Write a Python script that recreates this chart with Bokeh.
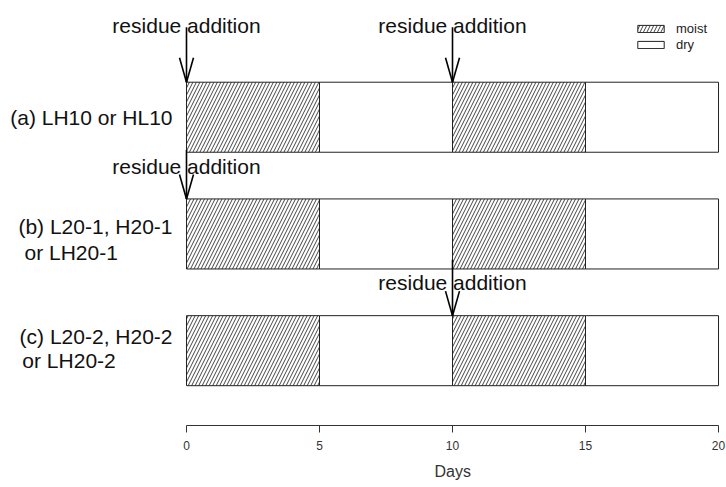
from bokeh.plotting import figure
from bokeh.models import (Range1d, FixedTicker, Label, Legend, LegendItem, Title)
from bokeh.embed import file_html
from bokeh.resources import INLINE

# ---------------- data ----------------
row_labels_line1 = ["(a) LH10 or HL10", "(b) L20-1, H20-1", "(c) L20-2, H20-2"]
row_labels_line2 = ["", " or LH20-1", " or LH20-2"]
moist_start = [0, 10]
moist_end = [5, 15]
dry_start = [5, 15]
dry_end = [10, 20]
residue_days = [[0, 10], [0], [10]]
residue_text = "residue addition"
x_ticks = [0, 5, 10, 15, 20]
x_label = "Days"
legend_labels = ["moist", "dry"]

# ---------------- layout constants ----------------
FONT = "Liberation Sans"
row_y = [3, 2, 1]            # row centres (layout)
bar_h = 0.6
text_off = [0.79, 0.58, 0.58]   # "residue addition" text offset above row centre
arrow_top = [0.77, 0.72, 0.78]  # arrow start offset above row centre
line1_off = [0.0, 0.06, 0.12]
line2_off = [0.0, -0.16, -0.08]
line2_x = [0, -6.09, -6.17]
head_dx = 0.263
head_dy = 0.21

p = figure(width=726, height=487, output_backend="svg", toolbar_location=None,
           x_range=Range1d(-6.992, 20.30), y_range=Range1d(0.359, 4.0),
           y_axis_location=None,
           min_border_left=0, min_border_right=0, min_border_top=0,
           min_border_bottom=61)
p.outline_line_color = None
p.xgrid.visible = False
p.ygrid.visible = False
p.background_fill_color = "white"
p.border_fill_color = "white"

# bars
m_left, m_right, m_bottom, m_top = [], [], [], []
d_left, d_right, d_bottom, d_top = [], [], [], []
for y in row_y:
    for s, e in zip(moist_start, moist_end):
        m_left.append(s); m_right.append(e)
        m_bottom.append(y - bar_h / 2); m_top.append(y + bar_h / 2)
    for s, e in zip(dry_start, dry_end):
        d_left.append(s); d_right.append(e)
        d_bottom.append(y - bar_h / 2); d_top.append(y + bar_h / 2)

r_moist = p.quad(left=m_left, right=m_right, bottom=m_bottom, top=m_top,
                 fill_color="white", line_color="#222", line_width=1,
                 hatch_pattern="/", hatch_color="#444", hatch_weight=1,
                 hatch_scale=7)
r_dry = p.quad(left=d_left, right=d_right, bottom=d_bottom, top=d_top,
               fill_color="white", line_color="#222", line_width=1)

# arrows + text
for i, days in enumerate(residue_days):
    y = row_y[i]
    tip = y + bar_h / 2
    for d in days:
        p.segment(x0=[d], y0=[y + arrow_top[i]], x1=[d], y1=[tip],
                  line_color="black", line_width=1.6)
        p.segment(x0=[d - head_dx, d + head_dx], y0=[tip + head_dy, tip + head_dy],
                  x1=[d, d], y1=[tip, tip], line_color="black", line_width=1.6)
        p.add_layout(Label(x=d, y=y + text_off[i], text=residue_text,
                           text_align="center", text_baseline="middle",
                           text_font=FONT, text_font_size="21px",
                           text_color="#111"))

# row labels
for i in range(3):
    y = row_y[i]
    p.add_layout(Label(x=-0.526, y=y + line1_off[i], text=row_labels_line1[i],
                       text_align="right", text_baseline="middle",
                       text_font=FONT, text_font_size="21px", text_color="#111"))
    if row_labels_line2[i]:
        p.add_layout(Label(x=line2_x[i], y=y + line2_off[i], text=row_labels_line2[i],
                           text_align="left", text_baseline="middle",
                           text_font=FONT, text_font_size="21px", text_color="#111"))

# axis
ax = p.xaxis[0]
ax.bounds = (x_ticks[0], x_ticks[-1])
ax.ticker = FixedTicker(ticks=x_ticks)
ax.minor_tick_line_color = None
ax.major_tick_in = 0
ax.major_tick_out = 7
ax.axis_line_color = "#333"
ax.major_tick_line_color = "#333"
ax.major_label_text_font = FONT
ax.major_label_text_font_size = "12px"
ax.major_label_text_color = "#333"
ax.major_label_standoff = 8

# axis title, centred under the 0-20 axis
p.add_layout(Title(text=x_label, align="left", offset=434, standoff=16,
                   text_font=FONT, text_font_size="16px",
                   text_font_style="normal", text_color="#333"), "below")

# legend
legend = Legend(items=[LegendItem(label=legend_labels[0], renderers=[r_moist]),
                       LegendItem(label=legend_labels[1], renderers=[r_dry])],
                location=(634, 373), glyph_width=33, glyph_height=9,
                label_height=9, label_text_font=FONT, label_text_font_size="13px",
                label_text_color="#222", label_standoff=9, padding=0, spacing=1,
                margin=0, border_line_color=None, background_fill_alpha=0)
p.add_layout(legend)

open("out.html", "w").write(file_html(p, INLINE))
